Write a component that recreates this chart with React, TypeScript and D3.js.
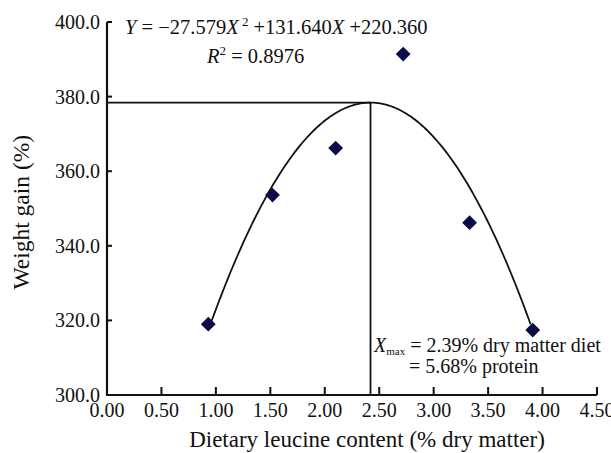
import React from "react";
import * as d3 from "d3";

// ---- data ----
const leucine = [0.93, 1.52, 2.1, 2.72, 3.33, 3.91];
const weightGain = [319.0, 353.6, 366.2, 391.4, 346.2, 317.4];
const xTicks = [0, 0.5, 1, 1.5, 2, 2.5, 3, 3.5, 4, 4.5];
const yTicks = [300, 320, 340, 360, 380, 400];
// fitted quadratic as drawn (vertex form): peak x, peak y, curvature
const peakX = 2.42;
const peakY = 378.4;
const curvature = -27.5;
const curveRange = [0.93, 3.9];
const equationText = ["−27.579", "+131.640", "+220.360"];
const r2Text = "0.8976";
const xmaxText = "2.39% dry matter diet";
const proteinText = "5.68% protein";

const W = 611;
const H = 453;
const FONT = "Liberation Serif";

export default function App() {
  const x = d3.scaleLinear().domain([0, 4.5]).range([107, 597]);
  const y = d3.scaleLinear().domain([300, 400]).range([395, 22]);

  const samples = d3.range(curveRange[0], curveRange[1] + 0.0001, 0.02);
  const fit = (v: number) => peakY + curvature * (v - peakX) * (v - peakX);
  const line = d3
    .line<number>()
    .x((v) => x(v))
    .y((v) => y(fit(v)));

  const diamond = d3.symbol().type(d3.symbolDiamond2).size(140)();
  const ts = { fontFamily: `"${FONT}"` } as React.CSSProperties;

  return (
    <div style={{ position: "absolute", left: 0, top: 0 }}>
      <svg width={W} height={H} style={{ display: "block", background: "#fff" }}>
        {/* reference lines */}
        <line x1={x(0)} x2={x(peakX)} y1={y(peakY)} y2={y(peakY)} stroke="#111" strokeWidth={1.8} />
        <line x1={x(peakX)} x2={x(peakX)} y1={y(peakY)} y2={y(300)} stroke="#111" strokeWidth={1.8} />

        {/* fitted curve */}
        <path d={line(samples) || ""} fill="none" stroke="#111" strokeWidth={1.8} />

        {/* axes */}
        <line x1={x(0)} x2={x(0)} y1={y(400)} y2={y(300)} stroke="#111" strokeWidth={2.2} />
        <line x1={x(0) - 1} x2={x(4.5)} y1={y(300)} y2={y(300)} stroke="#111" strokeWidth={2.2} />
        {yTicks.map((t) => (
          <g key={"y" + t}>
            <line x1={x(0)} x2={x(0) + 5} y1={y(t)} y2={y(t)} stroke="#111" strokeWidth={2} />
            <text style={ts} x={100} y={y(t) + 7} textAnchor="end" fontSize={20} fill="#111">
              {t.toFixed(1)}
            </text>
          </g>
        ))}
        {xTicks.map((t) => (
          <g key={"x" + t}>
            {t > 0 && (
              <line x1={x(t)} x2={x(t)} y1={y(300)} y2={y(300) - 8} stroke="#111" strokeWidth={2} />
            )}
            <text style={ts} x={x(t)} y={417} textAnchor="middle" fontSize={20} fill="#111">
              {t.toFixed(2)}
            </text>
          </g>
        ))}

        {/* axis titles */}
        <text style={ts} x={367} y={447} textAnchor="middle" fontSize={23} fill="#111">
          Dietary leucine content (% dry matter)
        </text>
        <text
          style={ts}
          transform={`translate(29,${y(349)}) rotate(-90)`}
          textAnchor="middle"
          fontSize={23.5}
          fill="#111"
        >
          Weight gain (%)
        </text>

        {/* points */}
        {leucine.map((v, i) => (
          <path key={i} d={diamond || ""} transform={`translate(${x(v)},${y(weightGain[i])})`} fill="#0b0b4a" />
        ))}

        {/* equation */}
        <text style={ts} x={125} y={34} fontSize={20.5} fill="#111">
          <tspan fontStyle="italic">Y</tspan>
          <tspan> = {equationText[0]}</tspan>
          <tspan fontStyle="italic">X</tspan>
          <tspan fontSize={13} dy={-8}> 2</tspan>
          <tspan dy={8}> {equationText[1]}</tspan>
          <tspan fontStyle="italic">X</tspan>
          <tspan> {equationText[2]}</tspan>
        </text>
        <text style={ts} x={207} y={63} fontSize={20.5} fill="#111">
          <tspan fontStyle="italic">R</tspan>
          <tspan fontSize={13} dy={-8}>2</tspan>
          <tspan dy={8}> = {r2Text}</tspan>
        </text>

        {/* annotation */}
        <text style={ts} x={374} y={352} fontSize={20} fill="#111">
          <tspan fontStyle="italic">X</tspan>
          <tspan fontSize={11} dy={3}>max</tspan>
          <tspan dy={-3}> = {xmaxText}</tspan>
        </text>
        <text style={ts} x={409} y={373} fontSize={20} fill="#111">
          = {proteinText}
        </text>
      </svg>
    </div>
  );
}
